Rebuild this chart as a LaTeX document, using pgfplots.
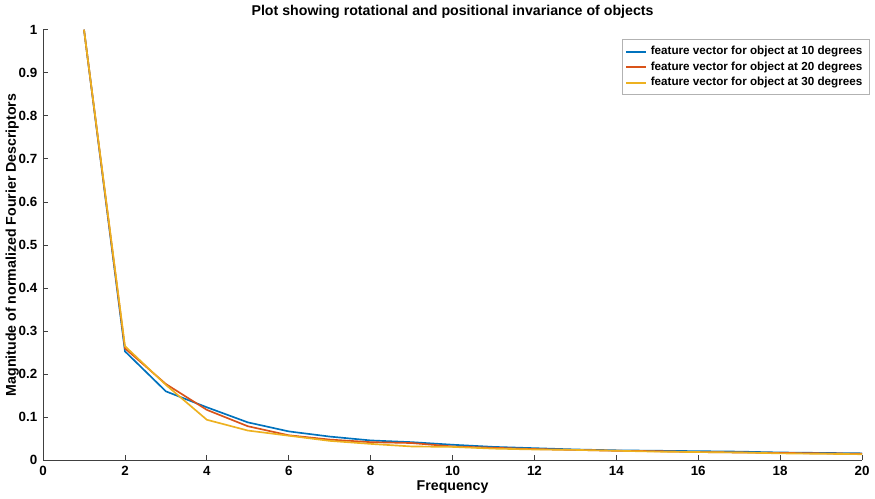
\documentclass[border=0pt]{standalone}
\usepackage{fontspec}
\setmainfont{Liberation Sans}
\usepackage{pgfplots}
\pgfplotsset{compat=1.18}
\definecolor{mBlue}{RGB}{0,114,189}
\definecolor{mRed}{RGB}{217,83,25}
\definecolor{mYellow}{RGB}{237,177,32}
\definecolor{axgray}{HTML}{404040}

\begin{document}
\begin{tikzpicture}
\begin{axis}[
    scale only axis, width=490.8pt, height=258pt,
    xmin=0, xmax=20, ymin=0, ymax=1,
    xtick={0,2,...,20}, ytick={0,0.1,...,1},
    axis lines*=left, axis line style={axgray, line width=0.6pt},
    tick style={axgray, line width=0.5pt}, tick align=inside,
    major tick length=3pt,
    every tick label/.append style={font=\fontsize{8}{9}\selectfont\bfseries, text=black},
    /pgf/number format/assume math mode=true,
    yticklabel style={/pgf/number format/fixed},
    title={\bfseries Plot showing rotational and positional invariance of objects},
    title style={font=\fontsize{8.5}{10}\selectfont, yshift=-3pt},
    xlabel={\bfseries Frequency}, ylabel={\bfseries Magnitude of normalized Fourier Descriptors},
    xlabel style={font=\fontsize{8.5}{10}\selectfont, yshift=4pt},
    ylabel style={font=\fontsize{8.5}{10}\selectfont, yshift=-7pt},
    legend style={at={(1.009,0.978)}, anchor=north east, draw=gray!60,
        font=\fontsize{7}{8}\selectfont\bfseries, row sep=-1.3pt, inner sep=2pt},
    legend cell align=left,
    legend image code/.code={\draw[#1, line width=1.3pt] (0cm,0cm) -- (0.42cm,0cm);},
]
% 10 degrees
\addplot[mBlue, line width=1pt] coordinates {
  (1,1) (2,0.253) (3,0.160) (4,0.123) (5,0.088) (6,0.067) (7,0.055) (8,0.046)
  (9,0.042) (10,0.036) (11,0.031) (12,0.028) (13,0.025) (14,0.023) (15,0.022)
  (16,0.021) (17,0.020) (18,0.018) (19,0.017) (20,0.016)
};
% 20 degrees
\addplot[mRed, line width=1pt] coordinates {
  (1,1) (2,0.260) (3,0.177) (4,0.117) (5,0.079) (6,0.058) (7,0.048) (8,0.042)
  (9,0.040) (10,0.032) (11,0.029) (12,0.026) (13,0.024) (14,0.022) (15,0.021)
  (16,0.019) (17,0.018) (18,0.017) (19,0.016) (20,0.015)
};
% 30 degrees
\addplot[mYellow, line width=1pt] coordinates {
  (1,1) (2,0.265) (3,0.175) (4,0.094) (5,0.069) (6,0.057) (7,0.045) (8,0.038)
  (9,0.032) (10,0.031) (11,0.027) (12,0.025) (13,0.024) (14,0.022) (15,0.020)
  (16,0.019) (17,0.018) (18,0.016) (19,0.015) (20,0.014)
};
\legend{feature vector for object at 10 degrees, feature vector for object at 20 degrees, feature vector for object at 30 degrees}
\end{axis}
\end{tikzpicture}
\end{document}
